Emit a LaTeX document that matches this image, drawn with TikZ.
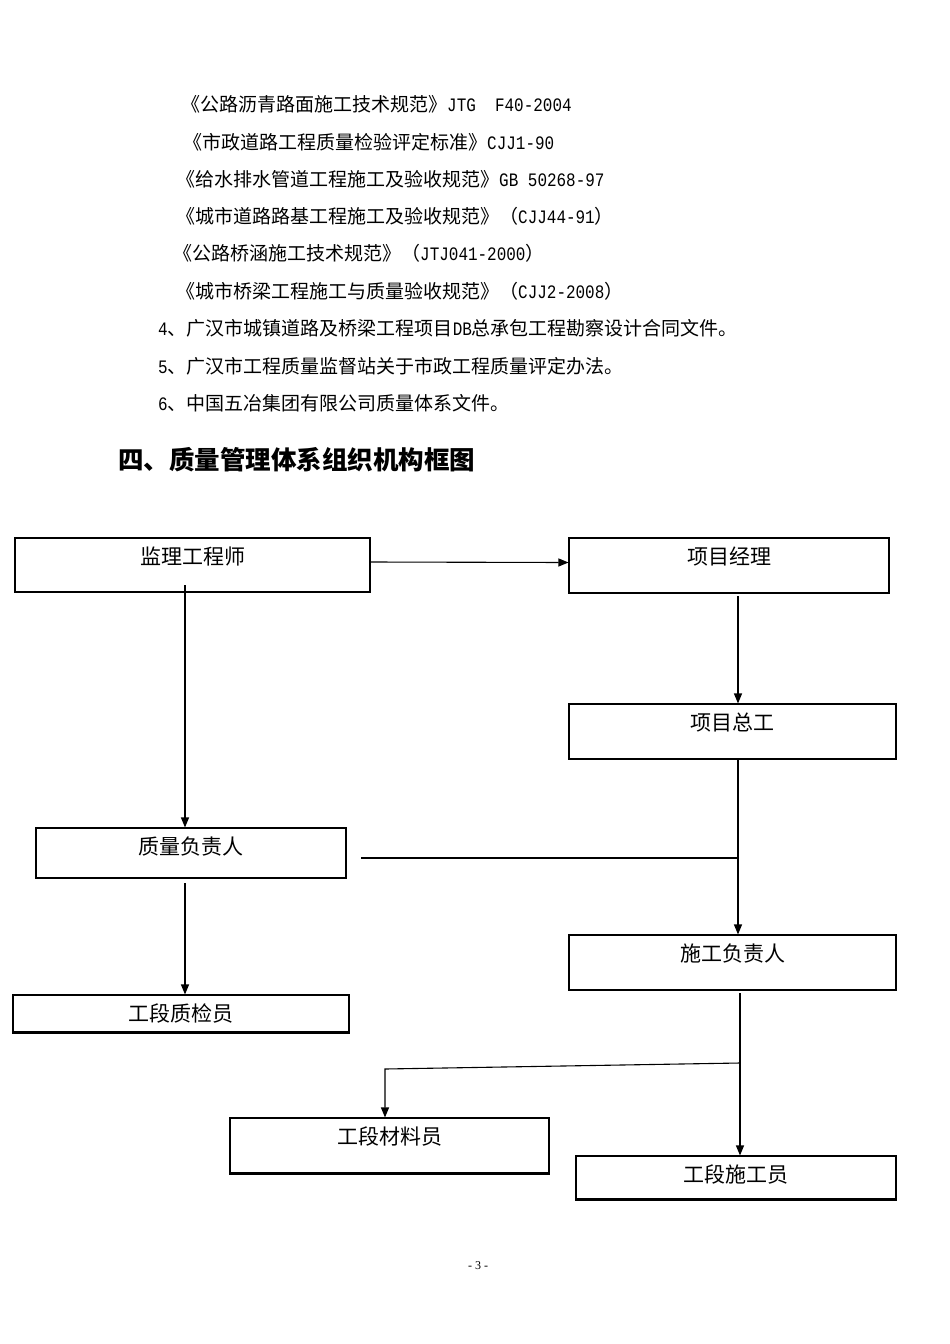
\documentclass[tikz,border=0pt]{standalone}
\usepackage{fontspec}
\setmainfont{Noto Sans CJK SC}
\newfontfamily\mono[FakeStretch=0.84]{Liberation Mono}
\newfontfamily\pgfont{Liberation Serif}
\usetikzlibrary{arrows.meta}
\newcommand{\lat}[1]{{\mono #1}}
\begin{document}
\begin{tikzpicture}[x=1pt,y=-1pt,
  reftext/.style={anchor=west, inner sep=0pt, font=\fontsize{19}{19}\selectfont},
  itemtext/.style={anchor=west, inner sep=0pt, font=\fontsize{19}{19}\selectfont},
  headtext/.style={anchor=west, inner sep=0pt, font=\fontsize{25.5}{25.5}\selectfont\bfseries},
  orgbox/.style={draw, line width=1.1pt, inner sep=0pt},
  lbl/.style={anchor=center, yshift=-19pt, inner sep=0pt, font=\fontsize{21}{21}\selectfont},
  arr/.style={line width=1.1pt, -{Triangle[length=10pt,width=8pt]}},
  ln/.style={line width=1.1pt},
  heavy/.style={line width=2pt}
]
\useasboundingbox[fill=white] (0,0) rectangle (950,1344);

% text lines
\node[reftext] (t1) at (181,104) {《公路沥青路面施工技术规范》\lat{JTG\ \ F40-2004}};
\node[reftext] (t2) at (183,142) {《市政道路工程质量检验评定标准》\lat{CJJ1-90}};
\node[reftext] (t3) at (176,179) {《给水排水管道工程施工及验收规范》\lat{GB 50268-97}};
\node[reftext] (t4) at (176,216) {《城市道路路基工程施工及验收规范》（\lat{CJJ44-91}）};
\node[reftext] (t5) at (173,253) {《公路桥涵施工技术规范》（\lat{JTJ041-2000}）};
\node[reftext] (t6) at (176,291) {《城市桥梁工程施工与质量验收规范》（\lat{CJJ2-2008}）};
\node[itemtext] (i4) at (158,328) {\lat{4}、广汉市城镇道路及桥梁工程项目\lat{DB}总承包工程勘察设计合同文件。};
\node[itemtext] (i5) at (158,366) {\lat{5}、广汉市工程质量监督站关于市政工程质量评定办法。};
\node[itemtext] (i6) at (158,403) {\lat{6}、中国五冶集团有限公司质量体系文件。};
\node[headtext] (head) at (118,460) {四、质量管理体系组织机构框图};

% boxes
\node[orgbox, minimum width=355pt, minimum height=54pt, label={[lbl]north:监理工程师}] (jl) at (192.5,565) {};
\node[orgbox, minimum width=320pt, minimum height=55pt, label={[lbl]north:项目经理}] (xm) at (729,565.5) {};
\node[orgbox, minimum width=327pt, minimum height=55pt, label={[lbl]north:项目总工}] (zg) at (732.5,731.5) {};
\node[orgbox, minimum width=310pt, minimum height=50pt, label={[lbl]north:质量负责人}] (zl) at (191,853) {};
\node[orgbox, minimum width=327pt, minimum height=55pt, label={[lbl]north:施工负责人}] (sg) at (732.5,962.5) {};
\node[orgbox, minimum width=336pt, minimum height=37pt, label={[lbl]north:工段质检员}] (zj) at (181,1013.5) {};
\node[orgbox, minimum width=319pt, minimum height=55pt, label={[lbl]north:工段材料员}] (cl) at (389.5,1145.5) {};
\node[orgbox, minimum width=320pt, minimum height=43pt, label={[lbl]north:工段施工员}] (sgy) at (736,1177.5) {};

\draw[heavy] (zj.south west) -- (zj.south east);
\draw[heavy] (cl.south west) -- (cl.south east);
\draw[heavy] (sgy.south west) -- (sgy.south east);

% connectors
\draw[arr] ([yshift=3pt]jl.east) -- ([yshift=3pt]xm.west);
\coordinate (a1) at (185,585);
\draw[arr] (a1) -- (a1 |- zl.north);
\coordinate (c1) at (738,596);
\draw[arr] (c1) -- (c1 |- zg.north);
\coordinate (c2) at (738,759);
\draw[arr] (c2) -- (c2 |- sg.north);
\coordinate (h1) at (361,858);
\draw[ln] (h1) -- (h1 -| c2);
\coordinate (a2) at (185,883);
\draw[arr] (a2) -- (a2 |- zj.north);
\coordinate (c3) at (740,993);
\draw[arr] (c3) -- (c3 |- sgy.north);
\coordinate (b1) at (740,1063);
\coordinate (b2) at (385,1069);
\draw[arr] (b1) -- (b2) -- (b2 |- cl.north);

% page number
\node[inner sep=0pt, font=\pgfont\fontsize{12}{12}\selectfont] (pg) at (478,1266) {- 3 -};
\end{tikzpicture}
\end{document}
